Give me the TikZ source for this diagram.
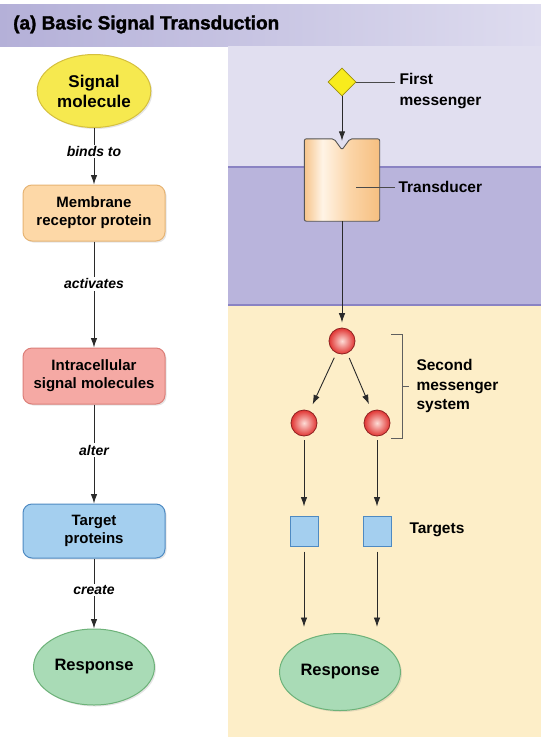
\documentclass[tikz,border=0pt]{standalone}
\usepackage{fontspec}
\setmainfont{Liberation Sans}
\newfontfamily\titlefont[BoldFeatures={FakeBold=1.6}]{Liberation Sans}
\usetikzlibrary{arrows.meta,shapes.geometric,shadows,calc}
\definecolor{hdL}{HTML}{B4B0D8}
\definecolor{hdR}{HTML}{DEDCEF}
\definecolor{topC}{HTML}{E1DFF0}
\definecolor{memC}{HTML}{B9B4DC}
\definecolor{memLine}{HTML}{8A83C3}
\definecolor{cytC}{HTML}{FDEEC8}
\definecolor{lineC}{HTML}{2A2A2A}
\definecolor{sigF}{HTML}{F6E94F}
\definecolor{sigE}{HTML}{D5C03E}
\definecolor{mrF}{HTML}{FDD8A7}
\definecolor{mrE}{HTML}{E6B474}
\definecolor{inF}{HTML}{F5A9A4}
\definecolor{inE}{HTML}{DC7F79}
\definecolor{taF}{HTML}{A4CFEF}
\definecolor{taE}{HTML}{4E8AC2}
\definecolor{reF}{HTML}{A9DBB6}
\definecolor{reE}{HTML}{6DB279}
\definecolor{diaF}{HTML}{F8EC1C}
\definecolor{diaE}{HTML}{9C8E10}
\definecolor{ballI}{HTML}{FDDCD6}
\definecolor{ballO}{HTML}{E03432}
\definecolor{ballE}{HTML}{8E2222}
\definecolor{trL}{HTML}{F6C48A}
\definecolor{trH}{HTML}{FFF4E6}
\definecolor{trM}{HTML}{FBD5A8}
\definecolor{trR}{HTML}{F6BF80}
\definecolor{trE}{HTML}{555555}
\pgfdeclarehorizontalshading{transd}{100bp}{color(0bp)=(trL); color(25bp)=(trL); color(37bp)=(trH); color(55bp)=(trM); color(75bp)=(trR); color(100bp)=(trR)}
\begin{document}
\begin{tikzpicture}[x=1pt,y=-1pt,
  arr/.style={draw=lineC, line width=0.9pt, -{Latex[length=9.5pt,width=6.5pt]}},
  thinln/.style={draw=lineC!85, line width=0.8pt},
  lbl/.style={fill=white, inner sep=1.5pt, font=\fontsize{14}{16}\selectfont\bfseries\itshape},
  boxnode/.style={rectangle, rounded corners=9pt, minimum width=142pt, minimum height=56pt, align=center, line width=1pt, font=\fontsize{15}{18}\selectfont\bfseries, drop shadow={opacity=0.2, shadow xshift=1.5pt, shadow yshift=-1.5pt}},
  ell/.style={ellipse, line width=1pt, align=center, drop shadow={opacity=0.2, shadow xshift=1.5pt, shadow yshift=-1.5pt}},
  ball/.style={circle, minimum size=26pt, inner sep=0pt, draw=ballE, line width=0.8pt, inner color=ballI, outer color=ballO},
  sqnode/.style={rectangle, minimum width=28pt, minimum height=30pt, inner sep=0pt, fill=taF, draw=taE, line width=1pt},
  rtext/.style={anchor=west, align=left, font=\fontsize{15.5}{20}\selectfont\bfseries}
]
\useasboundingbox (0,0) rectangle (541,737);
\fill[white] (0,0) rectangle (541,737);
% header
\shade[left color=hdL, right color=hdR] (0,4) rectangle (541,46);
\node[anchor=west, inner sep=3pt, font=\titlefont\fontsize{19}{21}\selectfont\bfseries] (title) at (10,24.5) {(a) Basic Signal Transduction};
% right panel backgrounds
\fill[topC] (228,46) rectangle (541,167);
\fill[memC] (228,167) rectangle (541,305);
\fill[cytC] (228,305) rectangle (541,737);
\draw[memLine, line width=2pt] (228,167) -- (541,167);
\draw[memLine, line width=2pt] (228,305) -- (541,305);

% left column
\node[ell, draw=sigE, fill=sigF, minimum width=106pt, minimum height=73pt, font=\fontsize{17}{20}\selectfont\bfseries] (sig) at (94,91) {Signal\\molecule};
\node[boxnode, fill=mrF, draw=mrE] (mr) at (94,213) {Membrane\\receptor protein};
\node[boxnode, fill=inF, draw=inE] (in) at (94,376) {Intracellular\\signal molecules};
\node[boxnode, fill=taF, draw=taE, minimum height=54pt] (ta) at (94,531) {Target\\proteins};
\node[ell, draw=reE, fill=reF, minimum width=117pt, minimum height=76pt, font=\fontsize{16.5}{20}\selectfont\bfseries] (re1) at (94,667) {Response};

\draw[arr] (sig) -- node[lbl, pos=0.41] {binds to} (mr);
\draw[arr] (mr) -- node[lbl, pos=0.40] {activates} (in);
\draw[arr] (in) -- node[lbl, pos=0.46] {alter} (ta);
\draw[arr] (ta) -- node[lbl, pos=0.45] {create} (re1);

% right column
\node[diamond, draw=diaE, fill=diaF, line width=0.8pt, minimum width=28pt, minimum height=28pt, inner sep=0pt] (dia) at (342,82) {};
\node[rtext, font=\fontsize{15.5}{21}\selectfont\bfseries] (fm) at (396,91.5) {First\\messenger};
\coordinate (fmc) at (395,82);
\draw[thinln] (dia.east) -- (fmc);

\node[minimum width=75pt, minimum height=82pt, inner sep=0pt] (tr) at (342,180) {};
\shade[shading=transd, draw=trE, line width=0.9pt, rounded corners=2pt]
  (tr.north west) -- ($(tr.north)+(-8,0)$) -- ($(tr.north)+(0,11)$) -- ($(tr.north)+(8,0)$) -- (tr.north east) -- (tr.south east) -- (tr.south west) -- cycle;
\draw[arr, shorten >=-2pt] (dia) -- (tr.north);
\coordinate (tc) at (356,187);
\node[rtext] (tl) at (395,187) {Transducer};
\draw[thinln] (tc) -- (tl.west);

\node[ball] (c1) at (342,341) {};
\node[ball] (c2) at (304,423) {};
\node[ball] (c3) at (377,423) {};
\draw[arr, shorten >=5pt] (tr) -- (c1);
\draw[arr, shorten <=5pt, shorten >=7pt] (c1) -- (c2);
\draw[arr, shorten <=5pt, shorten >=7pt] (c1) -- (c3);

\draw[thinln, draw=lineC!75] (391,334) -- (402,334) -- (402,438) -- (391,438);
\coordinate (brk) at (402,386);
\node[rtext, font=\fontsize{15.5}{19.5}\selectfont\bfseries] (smt) at (413,386) {Second\\messenger\\system};
\draw[thinln, draw=lineC!75] (brk) -- ++(7,0);

\node[sqnode] (s1) at (304,531) {};
\node[sqnode] (s2) at (377,531) {};
\node[rtext] (tg) at (406,530) {Targets};
\draw[arr, shorten <=4pt, shorten >=9pt] (c2) -- (s1);
\draw[arr, shorten <=4pt, shorten >=9pt] (c3) -- (s2);

\node[ell, draw=reE, fill=reF, minimum width=117pt, minimum height=77pt, font=\fontsize{16.5}{20}\selectfont\bfseries] (re2) at (340,672) {Response};
\coordinate (e1) at (304,627);
\coordinate (e2) at (377,627);
\draw[arr, shorten <=5pt] (s1) -- (e1);
\draw[arr, shorten <=5pt] (s2) -- (e2);
\end{tikzpicture}
\end{document}
